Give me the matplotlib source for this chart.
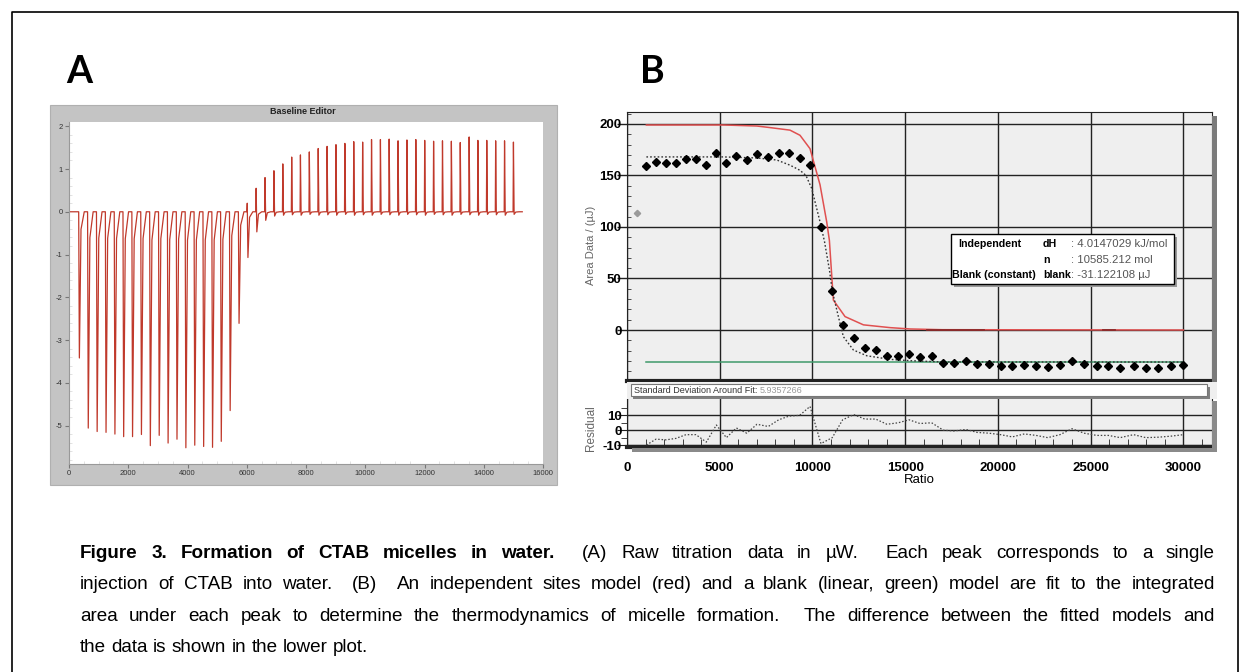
import numpy as np
import matplotlib
matplotlib.use("Agg")
import matplotlib.pyplot as plt
from matplotlib.patches import Rectangle
from matplotlib.ticker import MultipleLocator

W, H = 1250, 672
plt.rcParams["font.family"] = ["Liberation Sans", "DejaVu Sans"]
plt.rcParams["axes.unicode_minus"] = False

# === PANEL A: raw titration trace (one spike per injection)
inj_time = [315, 615, 915, 1215, 1515, 1810, 2110, 2410, 2710, 3010,
            3310, 3610, 3910, 4210, 4510, 4810, 5105, 5405, 5705, 6005,
            6305, 6605, 6905, 7205, 7505, 7800, 8100, 8400, 8700, 9000,
            9300, 9600, 9900, 10200, 10500, 10795, 11095, 11395, 11695, 11995,
            12295, 12595, 12895, 13195, 13495, 13790, 14090, 14390, 14690, 14990]
peak_up = [0, 0, 0, 0, 0, 0, 0, 0, 0, 0,
           0, 0, 0, 0, 0, 0, 0, 0, 0, 0.20,
           0.55, 0.80, 0.96, 1.12, 1.28, 1.33, 1.40, 1.48, 1.53, 1.57,
           1.60, 1.64, 1.63, 1.69, 1.69, 1.70, 1.66, 1.68, 1.69, 1.67,
           1.65, 1.66, 1.65, 1.62, 1.75, 1.67, 1.67, 1.66, 1.66, 1.63]
peak_down = [-3.42, -5.06, -5.14, -5.16, -5.20, -5.26, -5.26, -5.21, -5.47, -5.23,
             -5.41, -5.32, -5.52, -5.46, -5.49, -5.51, -5.37, -4.65, -2.61, -1.07,
             -0.47, -0.20, -0.10, -0.08, -0.07, -0.08, -0.06, -0.08, -0.07, -0.08,
             -0.06, -0.08, -0.07, -0.08, -0.06, -0.07, -0.08, -0.06, -0.07, -0.08,
             -0.06, -0.07, -0.08, -0.06, -0.07, -0.08, -0.06, -0.07, -0.08, -0.06]
trace_end = 15300

# === PANEL B: integrated heats, fits and residuals
ratio = [1045, 1565, 2100, 2640, 3180, 3720, 4280, 4820, 5360, 5900,
         6460, 7010, 7620, 8180, 8740, 9310, 9870, 10460, 11070, 11630,
         12230, 12820, 13410, 14020, 14630, 15210, 15800, 16430, 17060, 17650,
         18280, 18890, 19520, 20150, 20780, 21430, 22060, 22690, 23350, 24000,
         24650, 25330, 25960, 26600, 27320, 27980, 28660, 29340, 30010]
area = [158.9, 163, 162, 162, 166, 166, 160, 172, 162, 169,
        165, 171, 168, 172, 172, 167, 160, 100, 38.2, 4.9,
        -7.8, -17, -19.4, -24.9, -24.9, -23.3, -25.9, -25.2, -31.7, -31.7,
        -29.8, -33, -33, -34.6, -35.3, -33.7, -35.3, -35.9, -34.3, -29.8,
        -33, -35, -34.6, -37.2, -35, -36.6, -36.6, -35.3, -34]
residual = [-10, -6, -6.5, -5.5, -3, -3, -8, 3.5, -5, 1.5,
            -2, 4, 2.5, 7, 9.5, 10, 16, -9, -5, 7,
            10.5, 7.5, 7.5, 4, 5, 7, 4.5, 5, 0, -0.5,
            0.5, -1.5, -2, -3, -4.5, -2.5, -3.5, -5, -3, 1,
            -2, -3.5, -3.5, -5, -3, -5, -4.7, -4, -3]
excluded_ratio, excluded_area = 520, 113.6

indep_x = [1045, 5200, 7000, 7700, 8790, 9330, 9870, 10410, 10770, 10915,
           11130, 11760, 12750, 14190, 15270, 17000, 30010]
indep_y = [199, 199, 198, 196.5, 194, 189, 176, 141, 105, 87,
           29, 13, 5, 2.3, 1, 0.3, 0]
indep_dark = [(16170, 19230), (25660, 26330)]
total_x = [1045, 5200, 7000, 8080, 8790, 9330, 9650, 9960, 10410, 10650,
           10920, 11070, 11400, 11670, 12210, 12930, 14190, 15270, 17000, 30010]
total_y = [168, 168, 167, 165, 160, 155, 150, 137.5, 105, 86,
           58, 38, 13, -6.5, -19.4, -25, -28.5, -29.8, -31, -31.1]
blank = -31.122108

fit_labels = [("Independent", "dH", ": 4.0147029 kJ/mol"),
              ("", "n", ": 10585.212 mol"),
              ("Blank (constant)", "blank", ": -31.122108 µJ")]
sd_text, sd_value = "Standard Deviation Around Fit: ", "5.9357266"

cap_lines = [
    "Figure 3. Formation of CTAB micelles in water.  (A) Raw titration data in µW.  Each peak corresponds to a single",
    "injection of CTAB into water.  (B)  An independent sites model (red) and a blank (linear, green) model are fit to the integrated",
    "area under each peak to determine the thermodynamics of micelle formation.  The difference between the fitted models and",
    "the data is shown in the lower plot.",
]
cap_bold_words = 8

fig = plt.figure(figsize=(W / 100, H / 100), dpi=100)


def px_axes(x0, y0, x1, y1):
    return fig.add_axes([x0 / W, 1 - y1 / H, (x1 - x0) / W, (y1 - y0) / H])


def px_rect(x0, y0, x1, y1, **kw):
    r = Rectangle((x0 / W, 1 - y1 / H), (x1 - x0) / W, (y1 - y0) / H,
                  transform=fig.transFigure, **kw)
    fig.add_artist(r)
    return r


def px_text(x, y, s, **kw):
    return fig.text(x / W, 1 - y / H, s, **kw)


# outer frame of the figure
fig.add_artist(plt.Line2D([12 / W, 12 / W, 1238 / W, 1238 / W], [0, 1 - 12 / H, 1 - 12 / H, 0],
                          transform=fig.transFigure, color="black", lw=1.2))

# panel letters
px_text(66, 72, "A", fontsize=27, weight="bold", family="Lato", va="center")
px_text(640, 72, "B", fontsize=27, weight="bold", family="Lato", va="center")

# ---------------- Panel A
px_rect(50, 105, 557, 485, facecolor="#c4c4c4", edgecolor="#b0b0b0", lw=0.8, zorder=-1)
px_text(303, 112, "Baseline Editor", fontsize=6.5, weight="bold", color="#222",
        ha="center", va="center")
axA = px_axes(69, 122, 543, 464)

tx, ty = [0], [0]
for t, up, dn in zip(inj_time, peak_up, peak_down):
    tx += [t, t + 12, t + 35, t + 90, t + 200]
    ty += [0, up, dn, dn * 0.12, 0]
tx.append(trace_end)
ty.append(0)
axA.plot(tx, ty, color="#c0392b", lw=0.9)
axA.set_xlim(0, 16000)
axA.set_ylim(-5.9, 2.1)
axA.set_xticks(range(0, 16001, 2000))
axA.set_yticks(range(-5, 3))
axA.xaxis.set_minor_locator(MultipleLocator(500))
axA.yaxis.set_minor_locator(MultipleLocator(0.2))
axA.tick_params(which="major", length=3, color="#777", labelsize=5.5, labelcolor="#333", pad=1.5)
axA.tick_params(which="minor", direction="in", length=2.5, color="#ddd")
for s in ["top", "right"]:
    axA.spines[s].set_visible(False)
for s in ["left", "bottom"]:
    axA.spines[s].set_color("#999")
    axA.spines[s].set_linewidth(0.8)

# ---------------- Panel B (upper)
axB = px_axes(627, 112, 1212, 381)
axB.set_facecolor("#efefef")
axB.plot(indep_x, indep_y, color="#e05050", lw=1.1, zorder=3)
for a, b in indep_dark:
    axB.plot([a, b], [0, 0], color="#8a2a2a", lw=1.3, zorder=3)
axB.plot(total_x, total_y, color="#333", lw=1.0, ls=(0, (1.2, 1.5)), zorder=3)
axB.plot([ratio[0], ratio[-1]], [blank, blank], color="#3f9a6b", lw=1.1, zorder=2)
axB.plot(ratio, area, ls="none", marker="D", ms=3.6, color="black", zorder=4)
axB.plot([excluded_ratio], [excluded_area], ls="none", marker="D", ms=3.2, color="#9a9a9a", zorder=4)
axB.set_xlim(0, 31550)
axB.set_ylim(-49.5, 211.6)
axB.set_xticks(range(0, 30001, 5000))
axB.set_yticks(range(0, 201, 50))
axB.yaxis.set_minor_locator(MultipleLocator(10))
axB.grid(True, color="#222", lw=1)
axB.set_axisbelow(True)
axB.tick_params(axis="x", length=0, labelbottom=False)
axB.tick_params(axis="y", which="major", length=7, width=1, color="#222", pad=-3,
                labelsize=9.5)
axB.tick_params(axis="y", which="minor", direction="in", length=3, color="#333")
for lab in axB.get_yticklabels():
    lab.set_fontweight("bold")
for s in ["top", "left", "right"]:
    axB.spines[s].set_color("#222")
axB.spines["bottom"].set_linewidth(3)
axB.spines["bottom"].set_color("#222")
axB.set_ylabel("Area Data / (µJ)", fontsize=8, color="#666")
axB.yaxis.set_label_coords((596 - 627) / 585, (381 - 245) / 269)

# shadows and standard-deviation strip
px_rect(1212, 116, 1217, 383, facecolor="#7a7a7a", lw=0)
px_rect(627, 382, 1217, 399, facecolor="#efefef", lw=0)
px_rect(633, 387, 1210, 399, facecolor="#808080", lw=0)
px_rect(631, 384, 1207, 396, facecolor="white", edgecolor="#777", lw=0.8)
t_sd = px_text(634, 390, sd_text, fontsize=6.5, color="#333", va="center")

# fit parameter box
px_rect(954, 237, 1177, 287, facecolor="#999", lw=0)
px_rect(951, 234, 1174, 284, facecolor="white", edgecolor="black", lw=1)
for i, (m, p, v) in enumerate(fit_labels):
    y = 244 + 15.7 * i
    if m:
        px_text(958 if i == 0 else 952, y, m, fontsize=7.7, weight="bold", va="center")
    px_text(1043, y, p, fontsize=7.7, weight="bold", va="center")
    px_text(1071, y, v, fontsize=8.2, color="#555", va="center")

# ---------------- Panel B (residuals)
axR = px_axes(627, 399, 1212, 447)
axR.set_facecolor("#efefef")
axR.plot(ratio, residual, color="#444", lw=0.9, ls=(0, (1.2, 1.5)), zorder=3)
axR.set_xlim(0, 31550)
axR.set_ylim(-11.3, 21)
axR.set_xticks(range(0, 30001, 5000))
axR.set_yticks([-10, 0, 10])
axR.xaxis.set_minor_locator(MultipleLocator(1000))
axR.set_yticks([-5, 5, 15], minor=True)
axR.grid(True, which="major", color="#222", lw=1)
axR.set_axisbelow(True)
axR.tick_params(axis="x", which="major", length=0, pad=11, labelsize=9.5)
axR.tick_params(axis="x", which="minor", direction="in", length=6, color="#222")
axR.tick_params(axis="y", which="major", length=7, color="#222", pad=-3, labelsize=9.5)
axR.tick_params(axis="y", which="minor", length=4, color="#222")
for lab in axR.get_xticklabels() + axR.get_yticklabels():
    lab.set_fontweight("bold")
for s in ["top", "left", "right"]:
    axR.spines[s].set_color("#222")
axR.spines["top"].set_visible(False)
axR.spines["bottom"].set_linewidth(3)
axR.spines["bottom"].set_color("#222")
axR.set_xlabel("Ratio", fontsize=9.5, labelpad=0)
axR.set_ylabel("Residual", fontsize=8.5, color="#666")
axR.yaxis.set_label_coords((597 - 627) / 585, (447 - 428) / 48)
px_rect(1212, 401, 1217, 452, facecolor="#8a8a8a", lw=0)
px_rect(632, 448, 1217, 452, facecolor="#8a8a8a", lw=0)

# ---------------- caption, justified between x=80 and x=1215
renderer = fig.canvas.get_renderer()
cap_left, cap_right = 80, 1215
cap_size = 13.6
cap_family = ["Liberation Sans Narrow", "Liberation Sans"]
cap_base = [558, 589, 621, 652]
probe_a = px_text(0, 0, "x x", fontsize=cap_size, family=cap_family)
probe_b = px_text(0, 0, "xx", fontsize=cap_size, family=cap_family)
space_w = probe_a.get_window_extent(renderer).width - probe_b.get_window_extent(renderer).width
probe_a.remove()
probe_b.remove()
sd_w = t_sd.get_window_extent(renderer).width
px_text(634 + sd_w, 390, sd_value, fontsize=6.5, color="#999", va="center")

word_no = 0
for i, line in enumerate(cap_lines):
    tokens = line.split(" ")
    items = []
    for tok in tokens:
        if tok:
            bold = i == 0 and word_no < cap_bold_words
            word_no += 1
            t = px_text(0, cap_base[i], tok, fontsize=cap_size, va="baseline",
                        family=cap_family, weight="bold" if bold else "normal")
            items.append((t, t.get_window_extent(renderer).width))
        else:
            items.append((None, 0))
    total = sum(w for _, w in items)
    gaps = len(items) - 1
    gap = (cap_right - cap_left - total) / gaps if i < len(cap_lines) - 1 else space_w
    x = cap_left
    for t, w in items:
        if t is not None:
            t.set_x(x / W)
        x += w + gap

fig.savefig("out.png", dpi=100)
